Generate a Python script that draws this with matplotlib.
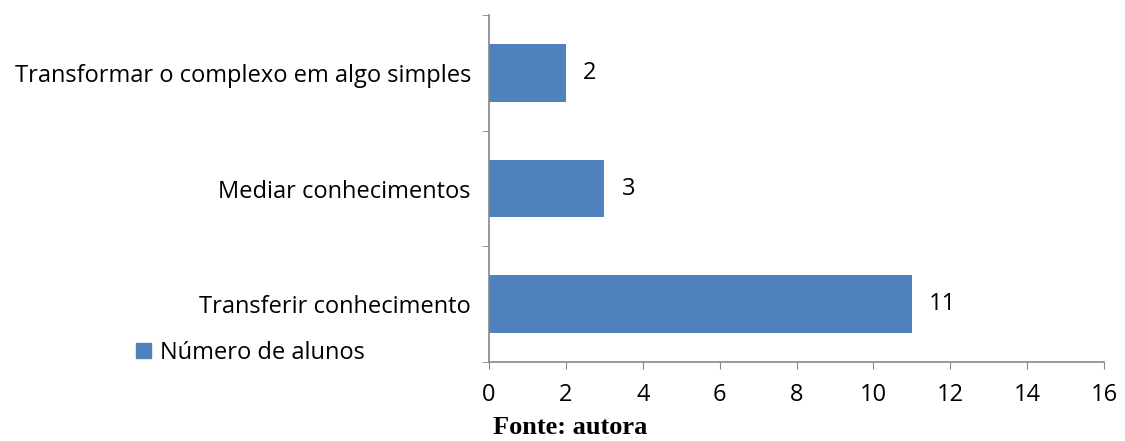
import matplotlib.pyplot as plt
from matplotlib.patches import Patch

categories = ["Transferir conhecimento", "Mediar conhecimentos", "Transformar o complexo em algo simples"]
values = [11, 3, 2]
series_name = "Número de alunos"
xticks = [0, 2, 4, 6, 8, 10, 12, 14, 16]

bar_color = "#4F81BD"
axis_color = "#868686"
plt.rcParams["font.family"] = ["Open Sans", "DejaVu Sans"]
fs = 17

fig = plt.figure(figsize=(11.25, 4.41), dpi=100)
ax = fig.add_axes([0.4347, 0.179, 0.5466, 0.787])

pos = list(range(len(categories)))
ax.barh(pos, values, height=0.5, color=bar_color)
for p, v in zip(pos, values):
    ax.text(v + 0.45, p, str(v), va="center", ha="left", fontsize=fs)

ax.set_xlim(0, 16)
ax.set_ylim(-0.5, 2.5)
ax.set_xticks(xticks)
ax.set_xticklabels([str(t) for t in xticks], fontsize=fs)
ax.set_yticks(pos)
ax.set_yticklabels(categories, fontsize=fs)
ax.tick_params(axis="y", length=0, pad=13)
ax.set_yticks([-0.5, 0.5, 1.5, 2.5], minor=True)
ax.tick_params(axis="y", which="minor", length=5, color=axis_color)
ax.tick_params(axis="x", length=5, color=axis_color, pad=10)

for side in ["top", "right"]:
    ax.spines[side].set_visible(False)
for side in ["left", "bottom"]:
    ax.spines[side].set_color(axis_color)
    ax.spines[side].set_linewidth(1.2)

handle = Patch(facecolor=bar_color, edgecolor=bar_color)
fig.legend([handle], [series_name], loc="center left", bbox_to_anchor=(0.102, 0.2),
           frameon=False, fontsize=fs, handlelength=0.65, handleheight=0.65,
           handletextpad=0.35)

fig.text(0.507, 0.004, "Fonte: autora", ha="center", va="bottom",
         fontsize=19, fontweight="bold", family="Liberation Serif")

fig.savefig("out.png", dpi=100)
